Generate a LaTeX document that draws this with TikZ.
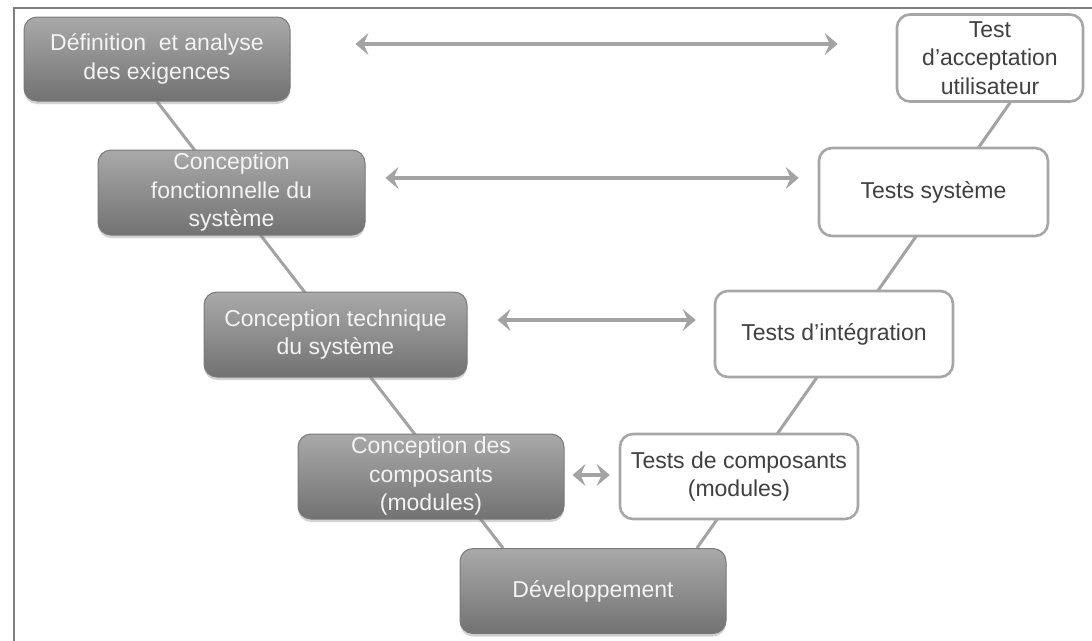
\documentclass[tikz,border=0pt]{standalone}
\usepackage{fontspec}
\setmainfont{Liberation Sans}
\usetikzlibrary{arrows.meta,shadows,backgrounds}

\definecolor{framegray}{HTML}{7F7F7F}
\definecolor{linegray}{HTML}{A3A3A3}
\definecolor{darktop}{HTML}{A9A9A9}
\definecolor{darkbot}{HTML}{727272}
\definecolor{darkedge}{HTML}{7A7A7A}
\definecolor{boxedge}{HTML}{A6A6A6}
\definecolor{textgray}{HTML}{404040}
\definecolor{paletext}{HTML}{F4F4F4}

\tikzset{
  phase/.style={rounded corners=13pt, inner sep=0pt, align=center,
    font=\fontsize{23}{28.5}\selectfont},
  darkbox/.style={phase, draw=darkedge, line width=1pt,
    top color=darktop, bottom color=darkbot, text=paletext,
    drop shadow={opacity=0.35, shadow xshift=0pt, shadow yshift=-3pt}},
  lightbox/.style={phase, draw=boxedge, line width=2.6pt, fill=white,
    text=textgray},
  vline/.style={draw=linegray, line width=3pt},
  biarrow/.style={draw=linegray, line width=4.5pt,
    {Stealth[length=13pt,width=22pt,inset=5pt]}-{Stealth[length=13pt,width=22pt,inset=5pt]}},
}

\begin{document}
\begin{tikzpicture}[x=1pt,y=-1pt]
  \useasboundingbox (0,0) rectangle (1092,640);

  % outer frame (top and left edges)
  \draw[framegray, line width=2.5pt] (14,650) -- (14,8) -- (1100,8);

  % design phases (left branch)
  \node[darkbox, minimum width=266pt, minimum height=84pt] (req) at (157,59)
    {Définition\ \ et analyse\\des exigences};
  \node[darkbox, minimum width=267pt, minimum height=85pt] (fonc) at (231.5,192.5)
    {Conception\\fonctionnelle du\\système};
  \node[darkbox, minimum width=263pt, minimum height=85pt] (tech) at (335.5,334.5)
    {Conception technique\\du système};
  \node[darkbox, minimum width=266pt, minimum height=85pt] (comp) at (431,476.5)
    {Conception des\\composants\\(modules)};
  \node[darkbox, minimum width=266pt, minimum height=85pt] (dev) at (593,591)
    {Développement};

  % test phases (right branch)
  \node[lightbox, minimum width=186pt, minimum height=87pt] (accept) at (990,58)
    {Test\\d’acceptation\\utilisateur};
  \node[lightbox, minimum width=229pt, minimum height=88pt] (sys) at (933.5,192)
    {Tests système};
  \node[lightbox, minimum width=238pt, minimum height=86pt] (integ) at (834,334)
    {Tests d’intégration};
  \node[lightbox, minimum width=238pt, minimum height=85pt] (tcomp) at (739,476.5)
    {Tests de composants\\(modules)};

  % the two branches of the V, behind the boxes
  \begin{scope}[on background layer]
    \fill[white] (0,0) rectangle (1092,640);
    \draw[vline] (req.south) -- ([xshift=-90pt]dev.north);
    \draw[vline] ([xshift=104pt]dev.north) -- ([xshift=20pt]accept.south);
  \end{scope}

  % correspondence between each design phase and its test phase
  \draw[biarrow] ([xshift=65pt,yshift=15pt]req.east) -- ([xshift=-58pt,yshift=14pt]accept.west);
  \draw[biarrow] ([xshift=20pt,yshift=14.5pt]fonc.east) -- ([xshift=-19pt,yshift=14pt]sys.west);
  \draw[biarrow] ([xshift=30pt,yshift=14.5pt]tech.east) -- ([xshift=-18pt,yshift=14pt]integ.west);
  \draw[biarrow] ([xshift=8pt,yshift=1.5pt]comp.east) -- ([xshift=-9pt,yshift=1.5pt]tcomp.west);
\end{tikzpicture}
\end{document}
